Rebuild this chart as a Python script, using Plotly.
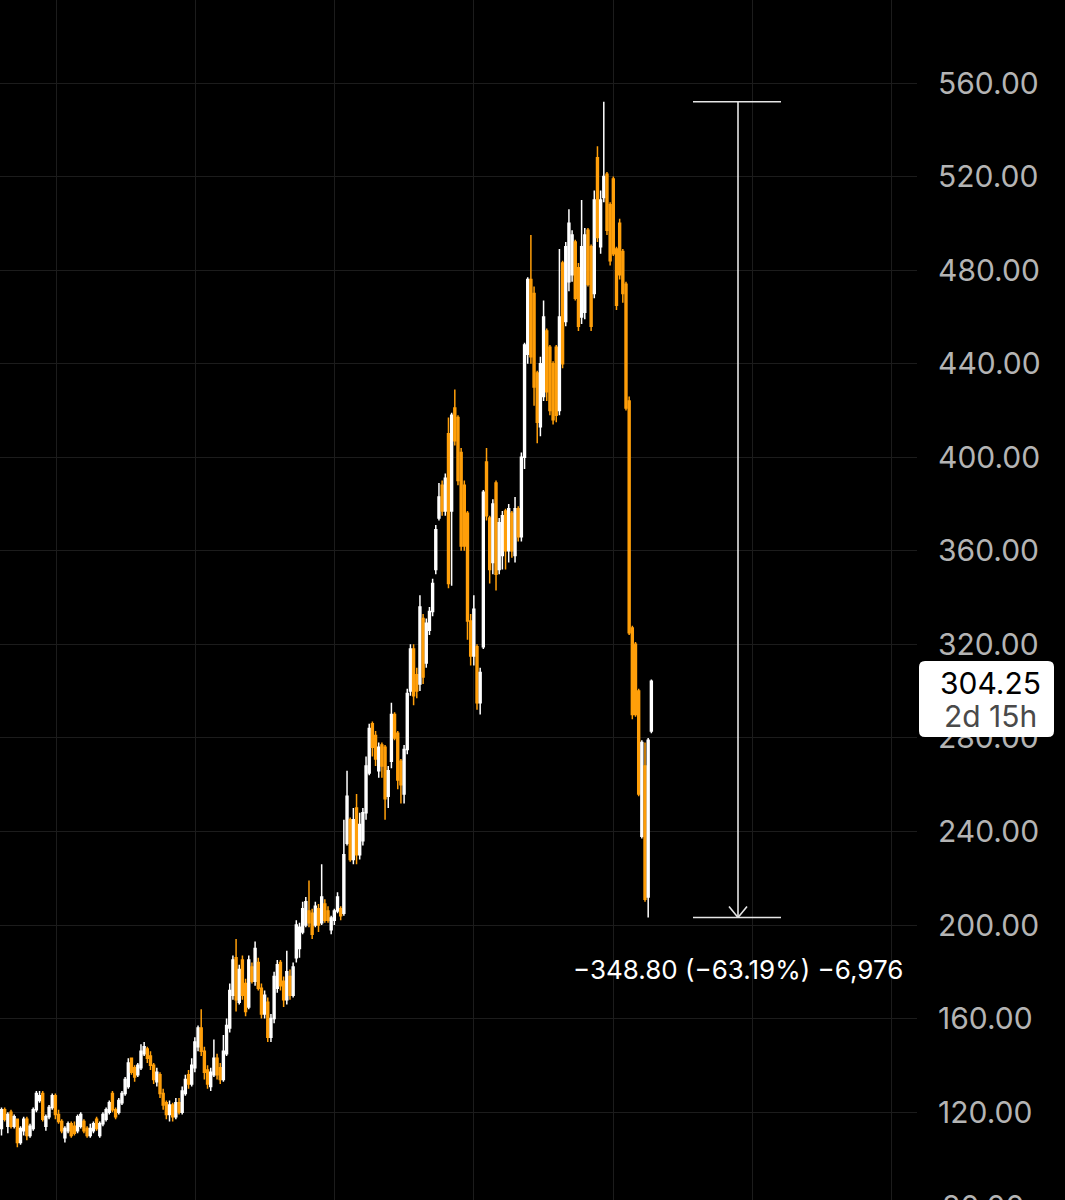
import plotly.graph_objects as go

# ---------------- data ----------------
opens = [113,121,114,120,114,117,107,112,117,110,113,121,125,128,114,118,122,127,119,116,
         109,112,115,114,112,114,116,113,110,112,117,110,115,117,120,128,121,120,124,128,
         131,143,139,136,139,145,147,144,140,133,136,128,124,119,123,118,124,120,128,136,
         132,139,148,156,146,138,131,136,143,139,134,145,156,170,186,167,185,175,165,182,
         176,184,173,162,167,152,160,173,184,176,168,178,170,186,190,197,200,206,205,200,
         207,201,209,206,198,202,206,207,205,235,245,228,250,230,236,248,265,286,281,266,
         277,276,255,270,290,282,270,256,275,300,318,307,303,331,312,326,334,352,374,388,
         377,410,377,421,417,402,388,376,330,315,319,295,319,398,374,355,389,352,358,377,
         360,376,358,378,366,400,444,476,470,436,413,426,454,447,440,447,420,483,458,475,
         478,492,481,460,462,497,490,470,528,490,511,521,508,519,489,500,488,474,424,327,
         320,300,238,268,212,283]
highs = [122,122,120,121,119,117,114,118,118,115,122,129,129,129,119,123,128,128,121,117,
         114,116,116,116,119,120,117,114,115,116,118,116,120,122,125,129,122,126,129,135,
         143,143,140,141,149,150,148,146,141,139,137,130,125,125,124,126,126,131,136,138,
         143,152,157,164,148,140,139,151,145,141,153,160,175,187,194,183,187,177,187,184,
         193,186,175,172,169,162,180,185,185,178,189,181,184,202,201,210,212,219,207,210,
         209,226,211,208,204,207,214,208,245,266,246,250,256,248,250,272,286,287,283,278,
         278,277,268,295,291,283,271,277,301,320,320,310,341,333,331,336,348,371,389,390,
         393,417,419,429,418,404,390,377,333,341,320,310,386,404,375,382,390,374,377,378,
         380,377,383,379,402,449,477,495,473,437,443,467,455,448,441,448,489,484,492,506,
         497,493,483,510,498,498,491,514,533,514,552,522,509,520,490,502,489,475,426,328,
         321,301,279,278,280,305]
lows = [110,116,111,113,113,105,106,110,108,109,112,120,124,116,112,117,121,117,115,111,
        107,111,109,110,111,113,111,109,109,111,112,109,114,116,119,120,117,119,123,127,
        130,136,133,135,138,144,141,138,132,131,126,121,117,116,116,117,119,119,127,130,
        131,137,146,144,134,130,129,135,134,132,133,144,154,168,163,166,168,161,164,175,
        174,172,160,160,150,150,158,171,172,165,166,168,169,184,186,196,199,199,194,199,
        197,200,201,201,196,200,205,202,204,234,227,226,226,228,234,245,264,272,268,263,
        263,245,250,267,279,258,252,252,273,298,294,297,300,303,310,324,332,350,373,375,
        375,344,345,405,388,360,360,322,311,311,292,290,318,373,346,350,343,350,352,352,
        355,357,355,364,364,395,440,440,422,406,409,424,424,418,414,415,418,438,456,471,
        475,467,454,457,459,473,454,468,492,487,509,495,482,486,463,476,466,420,324,288,
        289,255,237,210,203.2,282]
closes = [121,117,119,114,118,107,113,117,110,114,121,128,127,117,118,122,127,119,116,112,
          113,115,110,111,118,119,112,110,113,115,113,115,119,121,124,121,118,125,128,134,
          141,137,135,140,146,148,143,140,134,137,128,123,119,123,118,124,120,129,134,132,
          140,150,156,146,137,132,137,143,136,134,146,157,172,185,168,181,170,163,185,176,
          190,173,162,170,152,160,178,183,174,168,180,170,182,200,199,207,210,201,196,208,
          200,212,202,202,203,206,212,204,230,255,228,245,230,243,248,268,284,276,271,276,
          268,254,266,290,280,262,260,275,299,318,298,300,336,306,329,334,346,369,383,377,
          391,346,418,407,390,362,362,330,315,335,295,308,385,375,352,380,350,372,375,360,
          378,360,378,366,400,448,476,443,430,415,440,460,428,420,416,418,460,440,490,500,
          495,468,456,490,495,474,456,510,494,510,520,497,484,487,465,478,470,421,325,290,
          290,256,278,211,279,304.25]

y_ticks = [80, 120, 160, 200, 240, 280, 320, 360, 400, 440, 480, 520, 560]
bars_label = "\u22126,976"
countdown = "2d 15h"

# ---------------- layout constants ----------------
W, H = 1065, 1200
PLOT_W = 917
X_RANGE = [-0.473, 288.8]
Y_RANGE = [82.43, 595.49]
ORANGE = "#ff9f0a"
WHITE = "#ffffff"
GRID = "#1c1c1c"
LABEL = "#b4b4b4"
FONT = "Inter"
TICK_SIZE = 30


def px_to_paper_x(px):
    return px / PLOT_W


def px_to_paper_y(py):
    return 1 - py / H


def px_to_idx(px):
    return X_RANGE[0] + px / PLOT_W * (X_RANGE[1] - X_RANGE[0])


idx = list(range(len(opens)))

fig = go.Figure(go.Candlestick(
    x=idx, open=opens, high=highs, low=lows, close=closes,
    increasing=dict(line=dict(color=WHITE, width=1.5), fillcolor=WHITE),
    decreasing=dict(line=dict(color=ORANGE, width=1.5), fillcolor=ORANGE),
    whiskerwidth=0, hoverinfo="skip", showlegend=False,
))

# measurement: from the all-time high to the lowest low after it
peak_i = max(range(len(highs)), key=lambda i: highs[i])
top = highs[peak_i]
bottom = min(lows[peak_i:])
diff = bottom - top
pct = diff / top * 100
measure_txt = "\u2212{:.2f} (\u2212{:.2f}%) {}".format(abs(diff), abs(pct), bars_label)

xc = px_to_idx(738)
xl = px_to_idx(693)
xr = px_to_idx(781)
line_style = dict(color="#e6e6e6", width=1.6)

shapes = [
    dict(type="line", xref="x", yref="y", x0=xc, x1=xc, y0=top, y1=bottom, line=line_style),
    dict(type="line", xref="x", yref="y", x0=xl, x1=xr, y0=top, y1=top, line=line_style),
    dict(type="line", xref="x", yref="y", x0=xl, x1=xr, y0=bottom, y1=bottom, line=line_style),
    dict(type="line", xref="x", yref="y", xsizemode="pixel", ysizemode="pixel",
         xanchor=xc, yanchor=bottom, x0=-9, x1=0, y0=11, y1=0, line=line_style),
    dict(type="line", xref="x", yref="y", xsizemode="pixel", ysizemode="pixel",
         xanchor=xc, yanchor=bottom, x0=9, x1=0, y0=11, y1=0, line=line_style),
]

# rounded price box
bx0, bx1 = px_to_paper_x(919), px_to_paper_x(1054)
by0, by1 = px_to_paper_y(737), px_to_paper_y(661)
rx, ry = 6 / PLOT_W, 6 / H
path = (f"M {bx0+rx},{by0} L {bx1-rx},{by0} Q {bx1},{by0} {bx1},{by0+ry} "
        f"L {bx1},{by1-ry} Q {bx1},{by1} {bx1-rx},{by1} L {bx0+rx},{by1} "
        f"Q {bx0},{by1} {bx0},{by1-ry} L {bx0},{by0+ry} Q {bx0},{by0} {bx0+rx},{by0} Z")
shapes.append(dict(type="path", xref="paper", yref="paper", path=path,
                   fillcolor="#ffffff", line=dict(width=0), layer="above"))

annotations = [
    dict(text=measure_txt, x=xc, xref="x", y=px_to_paper_y(969), yref="paper",
         showarrow=False, xanchor="center", yanchor="middle",
         font=dict(family=FONT, size=26, color="#ffffff")),
    dict(text="{:.2f}".format(closes[-1]), x=px_to_paper_x(990), xref="paper",
         y=px_to_paper_y(683), yref="paper", showarrow=False, xanchor="center", yanchor="middle",
         font=dict(family=FONT, size=30, color="#000000")),
    dict(text=countdown, x=px_to_paper_x(990), xref="paper",
         y=px_to_paper_y(716), yref="paper", showarrow=False, xanchor="center", yanchor="middle",
         font=dict(family=FONT, size=30, color="#4a4a4a")),
    dict(text="{:.2f}".format(y_ticks[0]), x=px_to_paper_x(940), xref="paper",
         y=px_to_paper_y(1206), yref="paper", showarrow=False, xanchor="left", yanchor="middle",
         font=dict(family=FONT, size=TICK_SIZE, color=LABEL)),
]

fig.update_layout(
    width=W, height=H, autosize=False,
    margin=dict(l=0, r=W - PLOT_W, t=0, b=0),
    paper_bgcolor="#000000", plot_bgcolor="#000000",
    showlegend=False, hovermode=False, boxgap=0.15,
    shapes=shapes, annotations=annotations,
    xaxis=dict(range=X_RANGE, rangeslider=dict(visible=False), showticklabels=False,
               showgrid=True, gridcolor=GRID, gridwidth=1, tickmode="linear",
               tick0=17.5, dtick=43.85, zeroline=False, showline=False, ticks=""),
    yaxis=dict(range=Y_RANGE, side="right", tickmode="array", tickvals=y_ticks[1:],
               ticktext=["{:.2f}".format(v) for v in y_ticks[1:]],
               showgrid=True, gridcolor=GRID, gridwidth=1, zeroline=False, showline=False,
               ticks="", ticklabelstandoff=20,
               tickfont=dict(family=FONT, size=TICK_SIZE, color=LABEL)),
)

fig.write_html("out.html")
